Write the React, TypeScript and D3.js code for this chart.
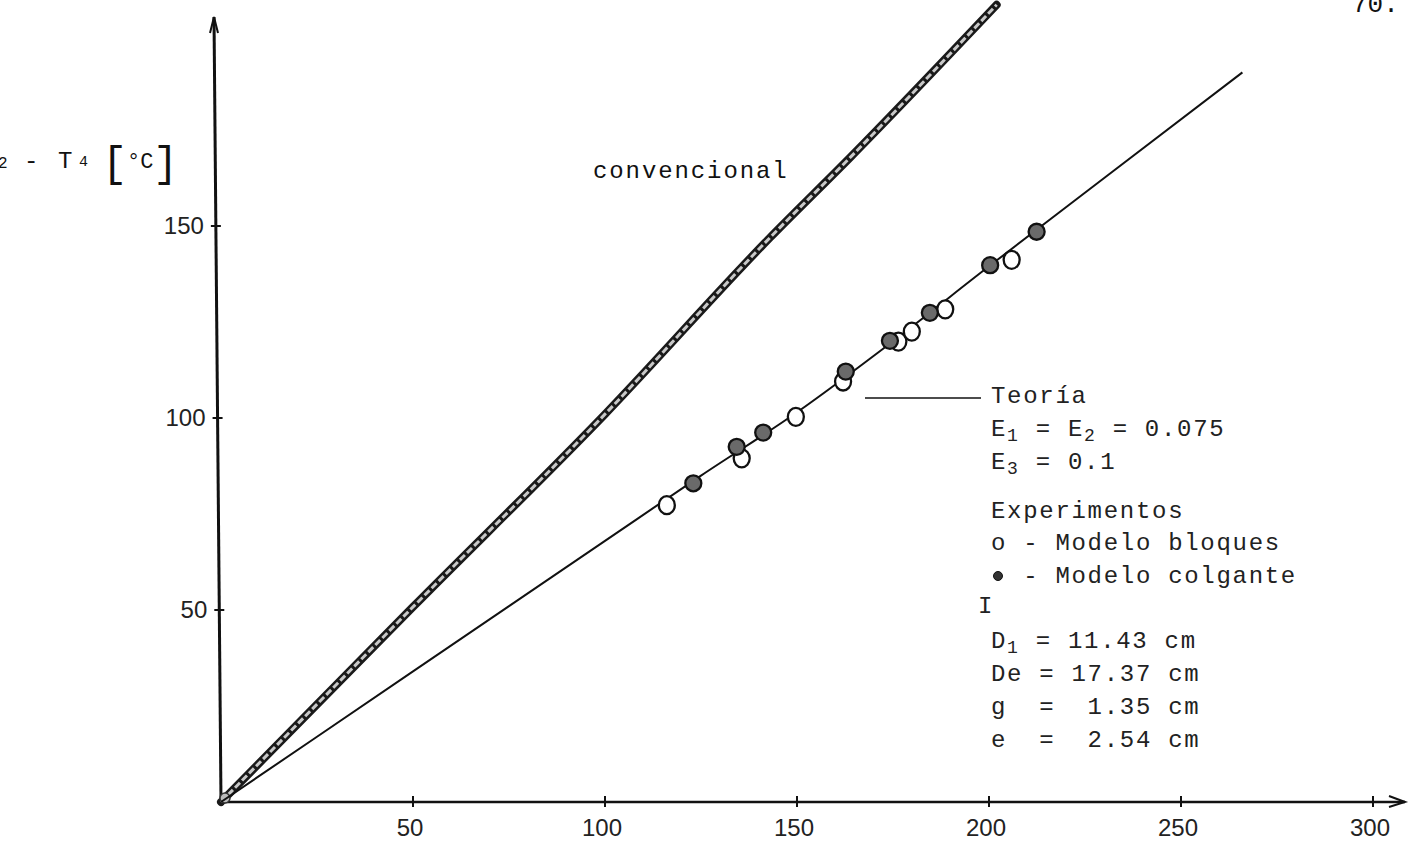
import React from "react";
import * as d3 from "d3";

// ---- data ----
const xTicks = [50, 100, 150, 200, 250, 300];
const yTicks = [50, 100, 150];

const convencionalX = [0, 50, 100, 143, 164, 202];
const convencionalY = [0, 50.8, 101, 147, 168, 207.6];

const teoriaX = [0, 50, 100, 125, 150, 175, 200, 230, 266];
const teoriaY = [0, 34, 68, 85, 101.5, 120, 139.5, 162.5, 190];

const bloquesX = [116.1, 135.6, 149.7, 162.0, 176.4, 179.9, 188.6, 205.9];
const bloquesY = [77.3, 89.5, 100.3, 109.5, 119.9, 122.5, 128.3, 141.2];

const colganteX = [123.0, 134.3, 141.2, 162.7, 174.2, 184.6, 200.3, 212.4];
const colganteY = [83.0, 92.5, 96.2, 112.1, 120.1, 127.4, 139.8, 148.5];

const legendLines = [
  { t: "Teoría", sub: null },
  { t: "E|1| = E|2| = 0.075", sub: true },
  { t: "E|3| = 0.1", sub: true },
  { t: "Experimentos", sub: null },
  { t: "o - Modelo bloques", sub: null },
  { t: "  - Modelo colgante", sub: null },
  { t: "I", sub: null },
  { t: "D|1| = 11.43 cm", sub: true },
  { t: "De = 17.37 cm", sub: null },
  { t: "g  =  1.35 cm", sub: null },
  { t: "e  =  2.54 cm", sub: null },
];
const legendBaselines = [403, 436, 469, 518, 550, 583, 613, 648, 681, 714, 747];

const W = 1415;
const H = 842;

export default function App() {
  const x = d3.scaleLinear().domain([0, 300]).range([221, 1373]);
  const y = d3.scaleLinear().domain([0, 150]).range([802, 226]);

  const xEnd = x.invert(1405);
  const yTop = y.invert(17);

  const lineGen = d3
    .line<[number, number]>()
    .x((d) => x(d[0]))
    .y((d) => y(d[1]))
    .curve(d3.curveMonotoneX);

  const convPath = lineGen(convencionalX.map((v, i) => [v, convencionalY[i]]))!;
  const teoPath = lineGen(teoriaX.map((v, i) => [v, teoriaY[i]]))!;

  const mono = "'Liberation Mono', 'DejaVu Sans Mono', monospace";
  const sans = "'Liberation Sans', Arial, sans-serif";

  const renderLegend = (s: string, hasSub: boolean | null) => {
    if (!hasSub) return s;
    const parts = s.split("|");
    return parts.map((p, i) =>
      i % 2 === 1 ? (
        <tspan key={i} fontSize={18} dy={5}>
          {p}
        </tspan>
      ) : (
        <tspan key={i} dy={i === 0 ? 0 : -5}>
          {p}
        </tspan>
      )
    );
  };

  const ox = x(0);
  const oy = y(0);

  return (
    <svg
      width={W}
      height={H}
      style={{ position: "absolute", left: 0, top: 0, background: "#fff" }}
    >
      <rect x={0} y={0} width={W} height={H} fill="#fff" />

      {/* axes */}
      <line x1={ox} y1={oy} x2={x(xEnd)} y2={oy} stroke="#111" strokeWidth={2.6} />
      <line x1={ox} y1={oy} x2={ox - 7} y2={y(yTop)} stroke="#111" strokeWidth={3} />
      {/* arrow heads */}
      <path
        d={`M${x(xEnd) - 16},${oy - 6} L${x(xEnd)},${oy} L${x(xEnd) - 16},${oy + 5}`}
        fill="none"
        stroke="#111"
        strokeWidth={2}
      />
      <path
        d={`M${ox - 11},${y(yTop) + 16} L${ox - 7},${y(yTop)} L${ox - 3},${y(yTop) + 16}`}
        fill="none"
        stroke="#111"
        strokeWidth={2}
      />

      {/* x ticks */}
      {xTicks.map((t) => (
        <g key={"xt" + t}>
          <line x1={x(t)} x2={x(t)} y1={oy - 6} y2={oy + 5} stroke="#111" strokeWidth={2} />
          <text
            x={x(t) - 3}
            y={836}
            fontFamily={sans}
            fontSize={24}
            textAnchor="middle"
            fill="#222"
          >
            {t}
          </text>
        </g>
      ))}

      {/* y ticks */}
      {yTicks.map((t) => {
        const ax = ox - (7 * (y(0) - y(t))) / (y(0) - y(yTop));
        return (
          <g key={"yt" + t}>
            <line x1={ax - 5} x2={ax + 5} y1={y(t)} y2={y(t)} stroke="#111" strokeWidth={2} />
            <text
              x={ax - 12}
              y={y(t) + 8}
              fontFamily={sans}
              fontSize={24}
              textAnchor="end"
              fill="#222"
            >
              {t}
            </text>
          </g>
        );
      })}

      {/* y axis label (cut off at left) */}
      <text x={-20} y={168} fontFamily={mono} fontSize={24} fill="#111">
        T
      </text>
      <text x={-2} y={168} fontFamily={mono} fontSize={16} fill="#111">
        2
      </text>
      <text x={24} y={168} fontFamily={mono} fontSize={24} fill="#111">
        -
      </text>
      <text x={58} y={168} fontFamily={mono} fontSize={24} fill="#111">
        T
      </text>
      <text x={79} y={166} fontFamily={mono} fontSize={15} fill="#111">
        4
      </text>
      <text x={102} y={176} fontFamily={mono} fontSize={42} fill="#111">
        [
      </text>
      <text x={127} y={168} fontFamily={mono} fontSize={22} fill="#111">
        °C
      </text>
      <text x={153} y={176} fontFamily={mono} fontSize={42} fill="#111">
        ]
      </text>

      {/* conventional line */}
      <path d={convPath} fill="none" stroke="#1a1a1a" strokeWidth={8} strokeLinecap="round" />
      <path
        d={convPath}
        fill="none"
        stroke="#c8c8c8"
        strokeWidth={3}
        strokeDasharray="7 3"
      />
      <circle cx={ox + 4} cy={oy - 4} r={5} fill="#bbb" stroke="#333" strokeWidth={1.5} />

      <text
        x={593}
        y={178}
        fontFamily={mono}
        fontSize={24}
        letterSpacing={1.9}
        fill="#111"
      >
        convencional
      </text>

      {/* theory line */}
      <path d={teoPath} fill="none" stroke="#111" strokeWidth={2} />

      {/* points */}
      {bloquesX.map((v, i) => (
        <ellipse
          key={"b" + i}
          cx={x(v)}
          cy={y(bloquesY[i])}
          rx={8}
          ry={9}
          fill="#fff"
          stroke="#111"
          strokeWidth={2.3}
        />
      ))}
      {colganteX.map((v, i) => (
        <circle
          key={"c" + i}
          cx={x(v)}
          cy={y(colganteY[i])}
          r={8}
          fill="#6a6a6a"
          stroke="#111"
          strokeWidth={2.3}
        />
      ))}

      {/* legend */}
      <line x1={865} x2={981} y1={398} y2={398} stroke="#111" strokeWidth={1.6} />
      {legendLines.map((l, i) => (
        <text
          key={"lg" + i}
          x={l.t === "I" ? 978 : 991}
          y={legendBaselines[i]}
          fontFamily={mono}
          fontSize={24}
          letterSpacing={1.7}
          fill="#222"
          style={{ whiteSpace: "pre" }}
        >
          {renderLegend(l.t, l.sub)}
        </text>
      ))}
      <circle cx={998} cy={576} r={4.5} fill="#333" stroke="#111" strokeWidth={1} />

      {/* page number */}
      <text x={1352} y={12} fontFamily={mono} fontSize={26} fill="#111">
        70.
      </text>
    </svg>
  );
}
